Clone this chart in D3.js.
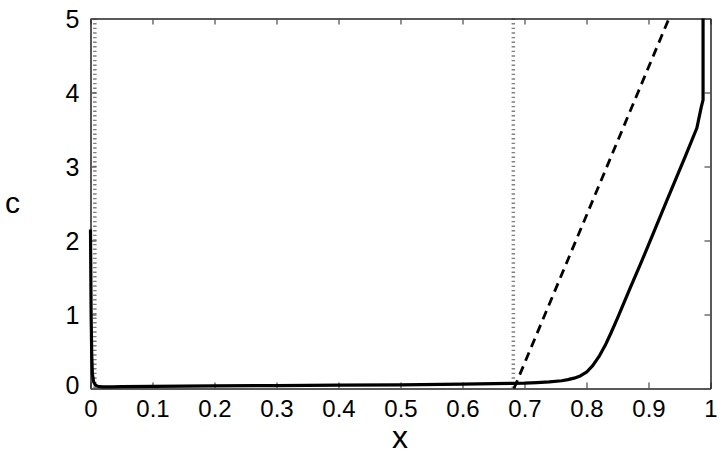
<!DOCTYPE html>
<html><head><meta charset="utf-8">
<script src="https://cdn.jsdelivr.net/npm/d3@7"></script>
<style>body{margin:0;background:#fff}svg{display:block}</style>
</head><body><svg id="c" width="722" height="460"></svg>
<script>
const xTicks = [0,0.1,0.2,0.3,0.4,0.5,0.6,0.7,0.8,0.9,1];
const xTickLabels = ["0","0.1","0.2","0.3","0.4","0.5","0.6","0.7","0.8","0.9","1"];
const yTicks = [0,1,2,3,4,5];
const yTickLabels = ["0","1","2","3","4","5"];
const solidX = [0,0.001,0.002,0.003,0.005,0.008,0.012,0.02,0.035,0.05,0.1,0.2,0.3,0.4,0.5,0.6,0.68,0.70,0.72,0.74,0.76,0.77,0.78,0.79,0.80,0.81,0.82,0.83,0.84,0.85,0.86,0.87,0.887,0.90,0.93,0.96,0.978,0.985,0.988,0.988];
const solidC = [2.15,1.0,0.45,0.2,0.09,0.045,0.028,0.022,0.022,0.025,0.03,0.035,0.04,0.045,0.05,0.058,0.07,0.073,0.08,0.09,0.105,0.12,0.14,0.17,0.22,0.31,0.43,0.58,0.76,0.95,1.15,1.35,1.68,1.94,2.55,3.15,3.52,3.8,3.9,5];
const dashedX = [0.683,0.933];
const dashedC = [0,5];
const vlineX = [0.007,0.682];

const svg = d3.select("#c");
const x = d3.scaleLinear().domain([0,1]).range([90.5,710.5]);
const y = d3.scaleLinear().domain([0,5]).range([388.5,18.5]);
const font = "'Liberation Sans', Arial, Helvetica, sans-serif";

// dotted vertical lines
svg.selectAll("line.v").data(vlineX).join("line")
  .attr("x1",d=>x(d)).attr("x2",d=>x(d)).attr("y1",y(5)).attr("y2",y(0))
  .attr("stroke","#808080").attr("stroke-width",3.5).attr("stroke-dasharray","1.4,3.2");

// axes with inward ticks
const axB = d3.axisBottom(x).tickValues(xTicks).tickFormat((d,i)=>xTickLabels[i]).tickSizeInner(-6).tickSizeOuter(0).tickPadding(11);
const axT = d3.axisTop(x).tickValues(xTicks).tickFormat("").tickSizeInner(-6).tickSizeOuter(0);
const axL = d3.axisLeft(y).tickValues(yTicks).tickFormat((d,i)=>yTickLabels[i]).tickSizeInner(-6).tickSizeOuter(0).tickPadding(11);
const axR = d3.axisRight(y).tickValues(yTicks).tickFormat("").tickSizeInner(-6).tickSizeOuter(0);

function style(g){
  g.selectAll(".domain").attr("stroke","#222").attr("stroke-width",1.5);
  g.selectAll(".tick line").attr("stroke","#555").attr("stroke-width",1.3);
  g.selectAll(".tick text").attr("font-family",font).attr("font-size",24).attr("fill","#000");
}
svg.append("g").attr("transform",`translate(0,${y(0)})`).call(axB).call(style);
svg.append("g").attr("transform",`translate(0,${y(5)})`).call(axT).call(style);
const gl = svg.append("g").attr("transform",`translate(${x(0)},0)`).call(axL).call(style);
gl.selectAll(".tick text").attr("font-size",25).attr("dy",(d)=> d===0 ? "0.2em" : "0.36em");
svg.append("g").attr("transform",`translate(${x(1)},0)`).call(axR).call(style);

// dashed line
const line = d3.line().x(d=>x(d[0])).y(d=>y(d[1]));
svg.append("path").datum(dashedX.map((v,i)=>[v,dashedC[i]]))
  .attr("d",line).attr("fill","none").attr("stroke","#000").attr("stroke-width",2.8)
  .attr("stroke-dasharray","9,6");

// solid curve
svg.append("path").datum(solidX.map((v,i)=>[v,solidC[i]]))
  .attr("d",line).attr("fill","none").attr("stroke","#000").attr("stroke-width",3.2)
  .attr("stroke-linejoin","round");

// axis labels
svg.append("text").attr("x",400).attr("y",448).attr("text-anchor","middle")
  .attr("font-family",font).attr("font-size",32).text("x");
svg.append("text").attr("x",12.5).attr("y",213).attr("text-anchor","middle")
  .attr("font-family",font).attr("font-size",30).text("c");
</script></body></html>
